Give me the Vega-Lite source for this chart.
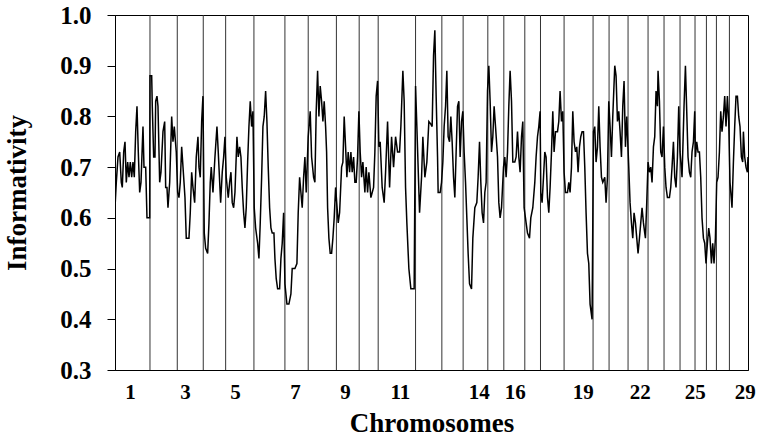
{
  "$schema": "https://vega.github.io/schema/vega-lite/v6.json",
  "width": 633,
  "height": 355,
  "autosize": {"type": "none"},
  "padding": {"left": 115, "top": 15, "right": 9, "bottom": 67},
  "background": "white",
  "config": {
    "view": {"stroke": "black", "strokeWidth": 1},
    "font": "Liberation Serif"
  },
  "datasets": {
    "bounds": [
      {"pos": 35}, {"pos": 62.3}, {"pos": 88.3}, {"pos": 110.7}, {"pos": 139}, {"pos": 170}, {"pos": 193.3}, {"pos": 221.5}, {"pos": 244.3}, {"pos": 263.3}, {"pos": 300.7}, {"pos": 327}, {"pos": 348.3}, {"pos": 373}, {"pos": 389}, {"pos": 410}, {"pos": 425.7}, {"pos": 449.3}, {"pos": 478.3}, {"pos": 494.3}, {"pos": 513.3}, {"pos": 533.3}, {"pos": 549.3}, {"pos": 565.3}, {"pos": 580.3}, {"pos": 591.7}, {"pos": 601.7}, {"pos": 614.7}
    ],
    "series": [
      {"pos":0,"inf":0.62},{"pos":1.3,"inf":0.67},{"pos":3,"inf":0.72},{"pos":4.7,"inf":0.73},{"pos":6.3,"inf":0.67},{"pos":7.3,"inf":0.66},{"pos":8.7,"inf":0.73},{"pos":10,"inf":0.75},{"pos":11.3,"inf":0.67},{"pos":12.7,"inf":0.71},{"pos":14,"inf":0.68},{"pos":15.3,"inf":0.71},{"pos":16.7,"inf":0.68},{"pos":18,"inf":0.71},{"pos":19.3,"inf":0.68},{"pos":20.7,"inf":0.77},{"pos":22,"inf":0.82},{"pos":23.3,"inf":0.73},{"pos":24.7,"inf":0.65},{"pos":26,"inf":0.67},{"pos":28,"inf":0.78},{"pos":29,"inf":0.70},{"pos":30.7,"inf":0.70},{"pos":32,"inf":0.60},{"pos":34.7,"inf":0.60},
      {"pos":35,"inf":0.88},{"pos":36.7,"inf":0.88},{"pos":37.3,"inf":0.82},{"pos":38.7,"inf":0.72},{"pos":40,"inf":0.72},{"pos":40.7,"inf":0.83},{"pos":42,"inf":0.84},{"pos":43,"inf":0.82},{"pos":44.7,"inf":0.67},{"pos":46,"inf":0.69},{"pos":48,"inf":0.77},{"pos":49.7,"inf":0.79},{"pos":50.7,"inf":0.66},{"pos":52,"inf":0.66},{"pos":53,"inf":0.62},{"pos":54.7,"inf":0.67},{"pos":56.7,"inf":0.80},{"pos":58,"inf":0.75},{"pos":59.3,"inf":0.78},{"pos":61.3,"inf":0.73},
      {"pos":62.7,"inf":0.65},{"pos":64,"inf":0.64},{"pos":65.3,"inf":0.67},{"pos":66.7,"inf":0.74},{"pos":68.7,"inf":0.68},{"pos":70,"inf":0.64},{"pos":71.3,"inf":0.56},{"pos":74,"inf":0.56},{"pos":75.3,"inf":0.61},{"pos":76.7,"inf":0.69},{"pos":78,"inf":0.66},{"pos":79.7,"inf":0.63},{"pos":81.3,"inf":0.72},{"pos":83,"inf":0.76},{"pos":84,"inf":0.70},{"pos":85.3,"inf":0.68},{"pos":86.7,"inf":0.79},{"pos":88,"inf":0.84},
      {"pos":89.3,"inf":0.57},{"pos":90.7,"inf":0.54},{"pos":92.7,"inf":0.53},{"pos":94,"inf":0.59},{"pos":95.3,"inf":0.67},{"pos":96.3,"inf":0.70},{"pos":98,"inf":0.65},{"pos":100,"inf":0.72},{"pos":102,"inf":0.78},{"pos":103.3,"inf":0.73},{"pos":105.7,"inf":0.63},{"pos":107.3,"inf":0.69},{"pos":108.7,"inf":0.72},{"pos":110,"inf":0.76},
      {"pos":111.3,"inf":0.68},{"pos":113.3,"inf":0.64},{"pos":114.7,"inf":0.67},{"pos":116,"inf":0.69},{"pos":117.3,"inf":0.63},{"pos":118.7,"inf":0.62},{"pos":120,"inf":0.65},{"pos":122,"inf":0.76},{"pos":123.3,"inf":0.72},{"pos":124.7,"inf":0.74},{"pos":126,"inf":0.72},{"pos":127.3,"inf":0.66},{"pos":128.7,"inf":0.61},{"pos":130,"inf":0.58},{"pos":131.3,"inf":0.62},{"pos":132.7,"inf":0.71},{"pos":134,"inf":0.78},{"pos":135.3,"inf":0.83},{"pos":136.7,"inf":0.78},{"pos":138,"inf":0.81},
      {"pos":139.3,"inf":0.62},{"pos":140.7,"inf":0.58},{"pos":142.7,"inf":0.55},{"pos":144,"inf":0.52},{"pos":145.3,"inf":0.59},{"pos":146.7,"inf":0.68},{"pos":148,"inf":0.78},{"pos":149.3,"inf":0.80},{"pos":150.7,"inf":0.85},{"pos":152,"inf":0.79},{"pos":153.3,"inf":0.70},{"pos":154.7,"inf":0.62},{"pos":156,"inf":0.58},{"pos":157.3,"inf":0.57},{"pos":159,"inf":0.57},{"pos":160,"inf":0.52},{"pos":161.3,"inf":0.48},{"pos":162.7,"inf":0.46},{"pos":164.7,"inf":0.46},{"pos":166,"inf":0.52},{"pos":167.3,"inf":0.55},{"pos":168.7,"inf":0.61},
      {"pos":170,"inf":0.47},{"pos":172,"inf":0.43},{"pos":174,"inf":0.43},{"pos":176,"inf":0.45},{"pos":177.3,"inf":0.50},{"pos":180,"inf":0.50},{"pos":182,"inf":0.51},{"pos":183.3,"inf":0.61},{"pos":184.7,"inf":0.68},{"pos":186,"inf":0.65},{"pos":187.3,"inf":0.62},{"pos":188.7,"inf":0.68},{"pos":190,"inf":0.72},{"pos":191.3,"inf":0.65},{"pos":193.3,"inf":0.76},
      {"pos":195.3,"inf":0.81},{"pos":196.7,"inf":0.72},{"pos":198.7,"inf":0.68},{"pos":200,"inf":0.67},{"pos":201.3,"inf":0.81},{"pos":202.7,"inf":0.89},{"pos":204,"inf":0.80},{"pos":205.3,"inf":0.86},{"pos":206.7,"inf":0.83},{"pos":208,"inf":0.79},{"pos":209.3,"inf":0.83},{"pos":210.7,"inf":0.78},{"pos":211.7,"inf":0.73},{"pos":212.7,"inf":0.62},{"pos":214,"inf":0.56},{"pos":215.3,"inf":0.53},{"pos":216.7,"inf":0.53},{"pos":218,"inf":0.56},{"pos":219.3,"inf":0.60},{"pos":220.7,"inf":0.66},
      {"pos":223.3,"inf":0.59},{"pos":224.7,"inf":0.61},{"pos":226.7,"inf":0.70},{"pos":228,"inf":0.71},{"pos":229.3,"inf":0.80},{"pos":230.7,"inf":0.74},{"pos":232,"inf":0.68},{"pos":233.3,"inf":0.73},{"pos":234.7,"inf":0.69},{"pos":236,"inf":0.73},{"pos":237.3,"inf":0.69},{"pos":238.7,"inf":0.72},{"pos":240,"inf":0.67},{"pos":241.3,"inf":0.67},{"pos":242.7,"inf":0.72},{"pos":244,"inf":0.81},
      {"pos":245.3,"inf":0.73},{"pos":246.7,"inf":0.68},{"pos":248,"inf":0.71},{"pos":250,"inf":0.65},{"pos":251.3,"inf":0.70},{"pos":252.7,"inf":0.65},{"pos":254,"inf":0.69},{"pos":256,"inf":0.64},{"pos":258.7,"inf":0.66},{"pos":260,"inf":0.73},{"pos":261.3,"inf":0.84},{"pos":262.7,"inf":0.87},
      {"pos":264,"inf":0.74},{"pos":265.3,"inf":0.75},{"pos":267.3,"inf":0.66},{"pos":269.3,"inf":0.63},{"pos":270.7,"inf":0.69},{"pos":272.7,"inf":0.79},{"pos":274.7,"inf":0.66},{"pos":276.7,"inf":0.76},{"pos":278.7,"inf":0.70},{"pos":280.7,"inf":0.76},{"pos":282.7,"inf":0.73},{"pos":284.7,"inf":0.73},{"pos":286,"inf":0.78},{"pos":288,"inf":0.89},{"pos":289.3,"inf":0.83},{"pos":290.7,"inf":0.66},{"pos":292,"inf":0.59},{"pos":294,"inf":0.50},{"pos":296,"inf":0.46},{"pos":299.3,"inf":0.46},
      {"pos":300.7,"inf":0.86},{"pos":302,"inf":0.78},{"pos":304.7,"inf":0.61},{"pos":306.7,"inf":0.68},{"pos":308,"inf":0.76},{"pos":310,"inf":0.68},{"pos":312,"inf":0.71},{"pos":314,"inf":0.79},{"pos":316,"inf":0.785},{"pos":317.3,"inf":0.78},{"pos":318.7,"inf":0.92},{"pos":320,"inf":0.97},{"pos":321.3,"inf":0.84},{"pos":322.7,"inf":0.72},{"pos":323.3,"inf":0.65},{"pos":325.3,"inf":0.65},{"pos":326.7,"inf":0.67},
      {"pos":328,"inf":0.71},{"pos":329.3,"inf":0.78},{"pos":330.7,"inf":0.82},{"pos":332,"inf":0.89},{"pos":333.3,"inf":0.76},{"pos":334.7,"inf":0.75},{"pos":336,"inf":0.80},{"pos":337.3,"inf":0.75},{"pos":338.7,"inf":0.68},{"pos":340,"inf":0.64},{"pos":341.3,"inf":0.73},{"pos":342.7,"inf":0.82},{"pos":344,"inf":0.83},{"pos":345.3,"inf":0.72},{"pos":346.7,"inf":0.79},{"pos":348,"inf":0.81},
      {"pos":349.3,"inf":0.73},{"pos":350.7,"inf":0.67},{"pos":352,"inf":0.60},{"pos":353.3,"inf":0.53},{"pos":354.7,"inf":0.47},{"pos":356.7,"inf":0.46},{"pos":358,"inf":0.56},{"pos":360,"inf":0.62},{"pos":362,"inf":0.63},{"pos":363.3,"inf":0.68},{"pos":364.7,"inf":0.75},{"pos":366,"inf":0.67},{"pos":367.3,"inf":0.61},{"pos":368.7,"inf":0.59},{"pos":370,"inf":0.65},{"pos":371.3,"inf":0.67},{"pos":372.7,"inf":0.85},
      {"pos":374,"inf":0.90},{"pos":375.3,"inf":0.83},{"pos":376.7,"inf":0.73},{"pos":378,"inf":0.76},{"pos":379.3,"inf":0.82},{"pos":380.7,"inf":0.78},{"pos":382.7,"inf":0.72},{"pos":384,"inf":0.63},{"pos":385.3,"inf":0.60},{"pos":386.7,"inf":0.62},{"pos":388.7,"inf":0.70},
      {"pos":390,"inf":0.72},{"pos":391.3,"inf":0.68},{"pos":392.7,"inf":0.73},{"pos":394,"inf":0.82},{"pos":395.3,"inf":0.89},{"pos":396.7,"inf":0.83},{"pos":398,"inf":0.71},{"pos":400,"inf":0.71},{"pos":401.3,"inf":0.72},{"pos":402.7,"inf":0.77},{"pos":404,"inf":0.72},{"pos":405.3,"inf":0.69},{"pos":406.7,"inf":0.76},{"pos":408,"inf":0.79},{"pos":409.3,"inf":0.62},
      {"pos":411.3,"inf":0.59},{"pos":412.7,"inf":0.57},{"pos":414.7,"inf":0.56},{"pos":416,"inf":0.60},{"pos":418,"inf":0.62},{"pos":420,"inf":0.67},{"pos":421.3,"inf":0.72},{"pos":422.7,"inf":0.76},{"pos":424,"inf":0.78},{"pos":425.3,"inf":0.81},
      {"pos":426,"inf":0.65},{"pos":427.3,"inf":0.63},{"pos":428.7,"inf":0.68},{"pos":430,"inf":0.73},{"pos":431.3,"inf":0.72},{"pos":432.7,"inf":0.64},{"pos":434,"inf":0.61},{"pos":435.3,"inf":0.66},{"pos":436.7,"inf":0.73},{"pos":438,"inf":0.81},{"pos":439.3,"inf":0.73},{"pos":440.7,"inf":0.77},{"pos":442.7,"inf":0.77},{"pos":444,"inf":0.79},{"pos":445.3,"inf":0.85},{"pos":446.7,"inf":0.79},{"pos":448,"inf":0.81},
      {"pos":449.3,"inf":0.69},{"pos":450.7,"inf":0.65},{"pos":452.7,"inf":0.65},{"pos":454,"inf":0.67},{"pos":455.3,"inf":0.65},{"pos":456.7,"inf":0.70},{"pos":458,"inf":0.81},{"pos":459.3,"inf":0.75},{"pos":460.7,"inf":0.73},{"pos":462,"inf":0.74},{"pos":463.3,"inf":0.69},{"pos":464.7,"inf":0.74},{"pos":466,"inf":0.76},{"pos":467.3,"inf":0.77},{"pos":468.7,"inf":0.77},{"pos":470,"inf":0.70},{"pos":471.3,"inf":0.61},{"pos":472.7,"inf":0.53},{"pos":474,"inf":0.51},{"pos":475.3,"inf":0.43},{"pos":477.3,"inf":0.40},
      {"pos":478.7,"inf":0.77},{"pos":480,"inf":0.78},{"pos":481.3,"inf":0.71},{"pos":482.7,"inf":0.74},{"pos":484,"inf":0.82},{"pos":485.3,"inf":0.74},{"pos":486.7,"inf":0.68},{"pos":488,"inf":0.67},{"pos":490,"inf":0.68},{"pos":491.3,"inf":0.63},{"pos":492.7,"inf":0.68},
      {"pos":494,"inf":0.83},{"pos":495.3,"inf":0.78},{"pos":496.7,"inf":0.72},{"pos":498,"inf":0.80},{"pos":500,"inf":0.90},{"pos":501.3,"inf":0.88},{"pos":502.7,"inf":0.79},{"pos":504,"inf":0.81},{"pos":505.3,"inf":0.77},{"pos":506.7,"inf":0.72},{"pos":508,"inf":0.82},{"pos":509.3,"inf":0.87},{"pos":510.7,"inf":0.74},{"pos":512,"inf":0.80},
      {"pos":514,"inf":0.70},{"pos":515.3,"inf":0.63},{"pos":516.7,"inf":0.59},{"pos":518,"inf":0.56},{"pos":519.3,"inf":0.61},{"pos":520.7,"inf":0.59},{"pos":522,"inf":0.56},{"pos":523.3,"inf":0.53},{"pos":524.7,"inf":0.56},{"pos":526,"inf":0.59},{"pos":527.3,"inf":0.62},{"pos":528.7,"inf":0.59},{"pos":530,"inf":0.57},{"pos":530.7,"inf":0.56},{"pos":532,"inf":0.63},
      {"pos":533.3,"inf":0.71},{"pos":534.7,"inf":0.69},{"pos":536,"inf":0.70},{"pos":537.3,"inf":0.67},{"pos":538.7,"inf":0.74},{"pos":540,"inf":0.76},{"pos":541.3,"inf":0.85},{"pos":542.7,"inf":0.82},{"pos":543.3,"inf":0.89},{"pos":544.7,"inf":0.83},{"pos":546,"inf":0.73},{"pos":547.3,"inf":0.72},{"pos":548.7,"inf":0.78},
      {"pos":550,"inf":0.70},{"pos":551.3,"inf":0.66},{"pos":552.7,"inf":0.64},{"pos":554.7,"inf":0.64},{"pos":556,"inf":0.66},{"pos":557.3,"inf":0.70},{"pos":558.7,"inf":0.75},{"pos":560,"inf":0.68},{"pos":561.3,"inf":0.66},{"pos":562.7,"inf":0.72},{"pos":564,"inf":0.82},
      {"pos":565.3,"inf":0.73},{"pos":567.3,"inf":0.68},{"pos":569.3,"inf":0.82},{"pos":570.7,"inf":0.90},{"pos":572,"inf":0.81},{"pos":573.3,"inf":0.72},{"pos":574.7,"inf":0.69},{"pos":576,"inf":0.68},{"pos":577.3,"inf":0.73},{"pos":578.7,"inf":0.75},{"pos":580,"inf":0.81},
      {"pos":580.7,"inf":0.72},{"pos":582,"inf":0.75},{"pos":583.3,"inf":0.73},{"pos":584.7,"inf":0.73},{"pos":586,"inf":0.68},{"pos":587.3,"inf":0.60},{"pos":588.7,"inf":0.56},{"pos":590,"inf":0.55},{"pos":591.3,"inf":0.51},
      {"pos":592.7,"inf":0.55},{"pos":594,"inf":0.58},{"pos":595.3,"inf":0.56},{"pos":596.7,"inf":0.51},{"pos":598,"inf":0.55},{"pos":599.3,"inf":0.51},{"pos":600.7,"inf":0.56},
      {"pos":602,"inf":0.67},{"pos":603.3,"inf":0.68},{"pos":604.7,"inf":0.73},{"pos":606,"inf":0.81},{"pos":607.3,"inf":0.77},{"pos":608.7,"inf":0.80},{"pos":610,"inf":0.84},{"pos":611.3,"inf":0.78},{"pos":612.7,"inf":0.84},{"pos":614,"inf":0.79},
      {"pos":615.3,"inf":0.67},{"pos":617.3,"inf":0.62},{"pos":618.7,"inf":0.71},{"pos":620,"inf":0.78},{"pos":621.3,"inf":0.84},{"pos":622.7,"inf":0.84},{"pos":624,"inf":0.80},{"pos":625.3,"inf":0.78},{"pos":626.7,"inf":0.72},{"pos":628,"inf":0.71},{"pos":628.7,"inf":0.77},{"pos":630,"inf":0.72},{"pos":631.3,"inf":0.70},{"pos":632.7,"inf":0.69},{"pos":633.3,"inf":0.72}
    ]
  },
  "layer": [
    {
      "data": {"name": "bounds"},
      "mark": {"type": "rule", "color": "#333333", "strokeWidth": 1},
      "encoding": {
        "x": {"field": "pos", "type": "quantitative", "scale": {"domain": [0, 633.3], "nice": false, "zero": false}}
      }
    },
    {
      "data": {"name": "series"},
      "mark": {"type": "line", "color": "black", "strokeWidth": 1.5, "clip": true},
      "encoding": {
        "x": {
          "field": "pos", "type": "quantitative",
          "scale": {"domain": [0, 633.3], "nice": false, "zero": false},
          "axis": {
            "title": "Chromosomes",
            "values": [15, 70, 120, 180, 230, 285, 364, 400, 468, 525, 580, 630],
            "labelExpr": "['1','3','5','7','9','11','14','16','19','22','25','29'][indexof([15,70,120,180,230,285,364,400,468,525,580,630], datum.value)]",
            "ticks": false, "grid": false, "domainColor": "black", "domainWidth": 1,
            "labelFont": "Liberation Serif", "labelFontWeight": "bold", "labelFontSize": 21, "labelColor": "black",
            "labelPadding": 11, "labelOverlap": false, "labelFlush": false,
            "titleFont": "Liberation Serif", "titleFontWeight": "bold", "titleFontSize": 27, "titleColor": "black", "titlePadding": 8
          }
        },
        "y": {
          "field": "inf", "type": "quantitative",
          "scale": {"domain": [0.3, 1.0], "nice": false, "zero": false},
          "axis": {
            "title": "Informativity",
            "values": [0.3, 0.4, 0.5, 0.6, 0.7, 0.8, 0.9, 1.0],
            "format": ".1f",
            "grid": false, "tickSize": 8, "tickColor": "black", "domainColor": "black", "domainWidth": 1,
            "labelFont": "Liberation Serif", "labelFontWeight": "bold", "labelFontSize": 25, "labelColor": "black",
            "labelPadding": 16,
            "titleFont": "Liberation Serif", "titleFontWeight": "bold", "titleFontSize": 27, "titleColor": "black", "titlePadding": 28
          }
        }
      }
    }
  ]
}
